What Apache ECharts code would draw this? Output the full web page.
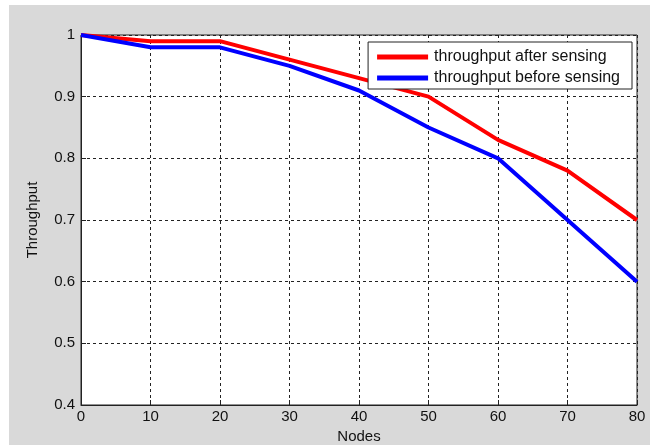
<!DOCTYPE html>
<html><head><meta charset="utf-8">
<script src="https://cdn.jsdelivr.net/npm/echarts@6/dist/echarts.min.js"></script>
<style>html,body{margin:0;padding:0;background:#fff}#c{width:650px;height:445px}</style>
</head><body><div id="c"></div>
<script>
const nodes = [0, 10, 20, 30, 40, 50, 60, 70, 80];
const afterSensing = [1.00, 0.99, 0.99, 0.96, 0.93, 0.90, 0.83, 0.78, 0.70];
const beforeSensing = [1.00, 0.98, 0.98, 0.95, 0.91, 0.85, 0.80, 0.70, 0.60];
const seriesNames = ['throughput after sensing', 'throughput before sensing'];

const chart = echarts.init(document.getElementById('c'), null, {renderer: 'canvas'});
const font = 'Liberation Sans, Arial, sans-serif';
const toPairs = (xs, ys) => xs.map((x, i) => [x, ys[i]]);
chart.setOption({
  animation: false,
  backgroundColor: '#ffffff',
  graphic: [{type: 'rect', z: -10, shape: {x: 9, y: 5, width: 641, height: 440}, style: {fill: '#d9d9d9'}, silent: true}],
  grid: {left: 81, top: 35, right: 13, bottom: 40, outerBoundsMode: 'none', containLabel: false,
    show: true, backgroundColor: '#ffffff', borderColor: '#222', borderWidth: 1},
  legend: {
    data: seriesNames, orient: 'vertical', right: 18, top: 42,
    backgroundColor: '#ffffff', borderColor: '#222', borderWidth: 1,
    padding: [7, 12, 3, 9], itemGap: 5, itemWidth: 51, itemHeight: 5,
    icon: 'rect',
    textStyle: {fontFamily: font, fontSize: 16, color: '#111', padding: [0, 0, 0, 1]}
  },
  xAxis: {
    type: 'value', min: 0, max: 80, interval: 10,
    name: 'Nodes', nameLocation: 'middle', nameGap: 21,
    nameTextStyle: {fontFamily: font, fontSize: 15, color: '#111'},
    axisLine: {show: true, lineStyle: {color: '#222'}},
    axisTick: {show: true, inside: true, length: 5, lineStyle: {color: '#222'}},
    axisLabel: {fontFamily: font, fontSize: 15, color: '#111', margin: 4},
    splitLine: {show: true, lineStyle: {color: '#222', type: [3, 3], width: 1}}
  },
  yAxis: {
    type: 'value', min: 0.4, max: 1, interval: 0.1,
    name: 'Throughput', nameLocation: 'middle', nameGap: 41,
    nameTextStyle: {fontFamily: font, fontSize: 15, color: '#111'},
    axisLine: {show: true, lineStyle: {color: '#222'}},
    axisTick: {show: true, inside: true, length: 5, lineStyle: {color: '#222'}},
    axisLabel: {fontFamily: font, fontSize: 15, color: '#111', margin: 6,
      formatter: v => (Math.round(v * 10) / 10).toString()},
    splitLine: {show: true, lineStyle: {color: '#222', type: [3, 3], width: 1}}
  },
  series: [
    {name: seriesNames[0], type: 'line', data: toPairs(nodes, afterSensing), showSymbol: false, symbol: 'none',
      lineStyle: {color: '#ff0000', width: 4}, itemStyle: {color: '#ff0000'}, z: 3},
    {name: seriesNames[1], type: 'line', data: toPairs(nodes, beforeSensing), showSymbol: false, symbol: 'none',
      lineStyle: {color: '#0000ff', width: 4}, itemStyle: {color: '#0000ff'}, z: 4}
  ]
});
</script></body></html>
